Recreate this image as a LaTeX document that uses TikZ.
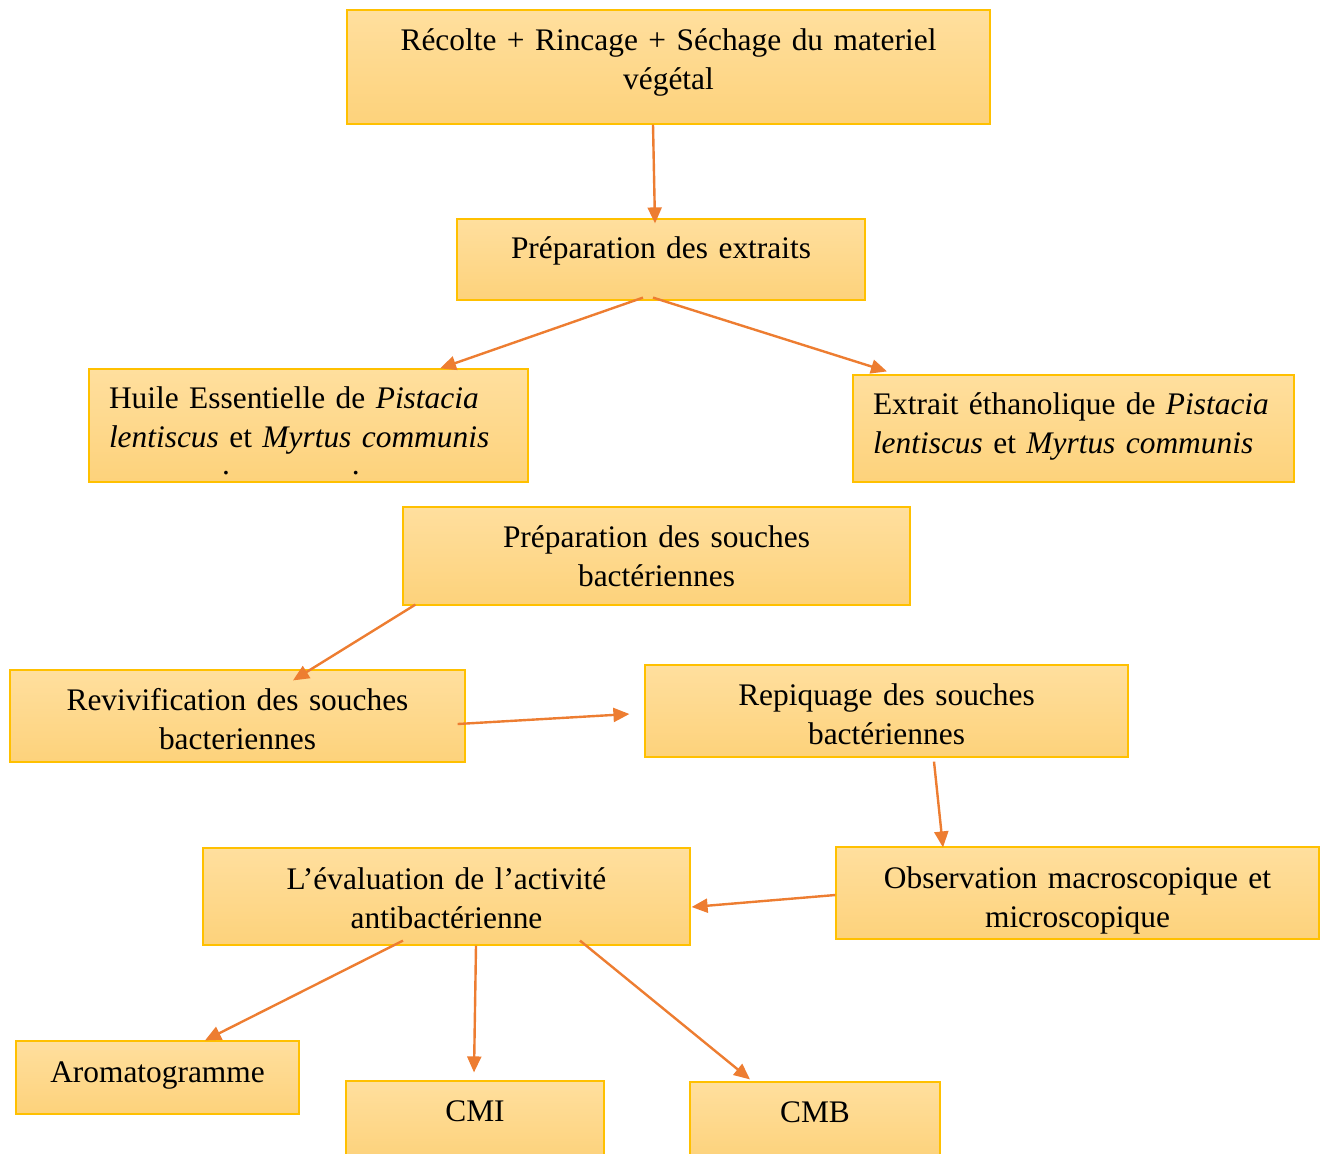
\documentclass[tikz,border=0pt]{standalone}
\usepackage{fontspec}
\setmainfont{Liberation Serif}
\usetikzlibrary{arrows.meta}
\definecolor{boxtop}{HTML}{FFDF9E}
\definecolor{boxbot}{HTML}{FDD27B}
\definecolor{boxline}{HTML}{FFC000}
\definecolor{arrowc}{HTML}{ED7D31}
\tikzset{
  etape/.style={rectangle, draw=boxline, line width=0.6pt, top color=boxtop,
    bottom color=boxbot, inner xsep=10pt, inner ysep=0pt, align=center,
    font=\fontsize{15.7}{19.5}\selectfont},
  lift/.style={execute at end node={\par\kern#1}},
  fleche/.style={draw=arrowc, line width=1.2pt, -{Triangle[length=8pt,width=7pt]}}
}
\begin{document}
\begin{tikzpicture}[x=0.5pt, y=-0.5pt]
  \useasboundingbox (0,0) rectangle (1327,1153);
  % extraits
  \node[etape, minimum width=321.5pt, minimum height=57pt, text width=301.5pt, lift=5pt]
    (recolte) at (668.5,67) {Récolte + Rincage + Séchage du materiel\\ végétal};
  \node[etape, minimum width=204pt, minimum height=40.5pt, text width=184pt, lift=8.5pt]
    (extraits) at (661,259.5) {Préparation des extraits};
  \node[etape, align=left, minimum width=219.5pt, minimum height=56.5pt, text width=199.5pt, lift=-5pt]
    (huile) at (308.5,425.5) {\mbox{Huile Essentielle de \textit{Pistacia}}\\
      \mbox{\textit{lentiscus} et \textit{Myrtus communis}}\\[-6pt]
      \hspace*{56.5pt}.\hspace*{61pt}.};
  \node[etape, align=left, minimum width=220.5pt, minimum height=53.5pt, text width=200.5pt, lift=2pt]
    (ethanol) at (1073.5,428.5) {\mbox{Extrait éthanolique de \textit{Pistacia}}\\
      \mbox{\textit{lentiscus} et \textit{Myrtus communis}}};
  % souches
  \node[etape, minimum width=253.5pt, minimum height=49pt, text width=233.5pt]
    (souches) at (656.5,556) {Préparation des souches\\ bactériennes};
  \node[etape, minimum width=227.5pt, minimum height=46pt, text width=207.5pt, lift=-3pt]
    (reviv) at (237.5,716) {Revivification des souches\\ bacteriennes};
  \node[etape, minimum width=241.5pt, minimum height=46pt, text width=221.5pt, lift=-3pt]
    (repiq) at (886.5,711) {Repiquage des souches\\ bactériennes};
  \node[etape, minimum width=241.5pt, minimum height=46pt, text width=221.5pt, lift=-7.5pt]
    (obs) at (1077.5,893) {Observation macroscopique et\\ microscopique};
  \node[etape, minimum width=243.5pt, minimum height=48.5pt, text width=223.5pt, lift=-2pt]
    (eval) at (446.5,896.5) {L’évaluation de l’activité\\ antibactérienne};
  % tests
  \node[etape, minimum width=141.5pt, minimum height=36.5pt, text width=121.5pt, lift=2.5pt]
    (aroma) at (157.5,1077.5) {Aromatogramme};
  \node[etape, minimum width=129pt, minimum height=39.5pt, text width=109pt, lift=9.5pt]
    (cmi) at (475,1120.5) {CMI};
  \node[etape, minimum width=125pt, minimum height=39pt, text width=105pt, lift=9pt]
    (cmb) at (815,1121) {CMB};
  \begin{scope}[fleche]
    \draw ([xshift=-7.75pt]recolte.south) to ([xshift=-3pt,yshift=-2.5pt]extraits.north);
    \draw ([xshift=-9pt,yshift=1.5pt]extraits.south) to ([xshift=65.75pt]huile.north);
    \draw ([xshift=-4pt,yshift=1.5pt]extraits.south) to ([xshift=-93.25pt,yshift=1.5pt]ethanol.north);
    \draw ([xshift=6.5pt,yshift=0.5pt]souches.south west) to ([xshift=27.75pt,yshift=-5.5pt]reviv.north);
    \draw ([xshift=-4pt,yshift=-4pt]reviv.east) to ([xshift=-7.5pt,yshift=-1.5pt]repiq.west);
    \draw ([xshift=23.75pt,yshift=-2pt]repiq.south) to ([xshift=-67.25pt,yshift=-0.5pt]obs.north);
    \draw ([yshift=-1pt]obs.west) to ([xshift=0.5pt,yshift=-5.25pt]eval.east);
    \draw ([xshift=-21.75pt,yshift=2.5pt]eval.south) to ([xshift=23.75pt]aroma.north);
    \draw ([xshift=14.75pt]eval.south) to ([xshift=-0.5pt,yshift=4pt]cmi.north);
    \draw ([xshift=66.75pt,yshift=2.5pt]eval.south) to ([xshift=-32.5pt,yshift=1pt]cmb.north);
  \end{scope}
\end{tikzpicture}
\end{document}
